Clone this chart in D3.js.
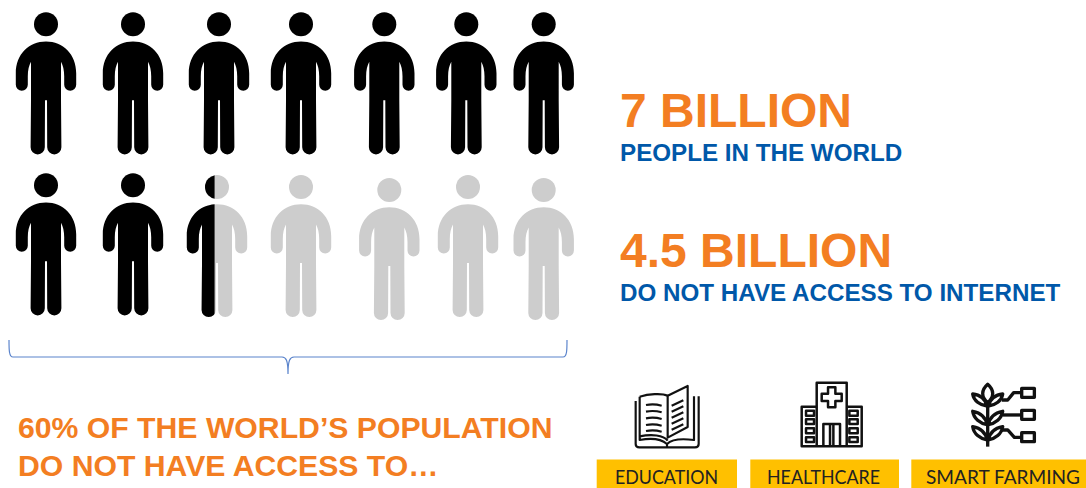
<!DOCTYPE html>
<html>
<head>
<meta charset="utf-8">
<script src="https://cdnjs.cloudflare.com/ajax/libs/d3/7.8.5/d3.min.js"></script>
<style>
  html, body { margin: 0; padding: 0; background: #fff; overflow: hidden; }
  svg { display: block; }
  text { font-family: "Liberation Sans", Arial, sans-serif; font-weight: 700; }
  .tag text { font-family: Lato, "Open Sans", sans-serif; font-weight: 400; }
</style>
</head>
<body>
<svg id="chart" width="1086" height="488"></svg>
<script>
// Share of each figure that is filled black, one row at a time.
const upperRow = [1, 1, 1, 1, 1, 1, 1];
const lowerRow = [1, 1, 0.46, 0, 0, 0, 0];

const headlines = ["7 BILLION", "4.5 BILLION"];
const sublines = ["PEOPLE IN THE WORLD", "DO NOT HAVE ACCESS TO INTERNET"];
const captionLines = ["60% OF THE WORLD\u2019S POPULATION", "DO NOT HAVE ACCESS TO\u2026"];
const sectors = ["EDUCATION", "HEALTHCARE", "SMART FARMING"];

const svg = d3.select("#chart");
const defs = svg.append("defs");

const ORANGE = "#f37e22", BLUE = "#0058a9", GREY = "#cdcdcd", YELLOW = "#ffc000";

// The figures are hand placed, so each row gets its own ordinal scales.
const columns = d3.range(7);
const upperX = d3.scaleOrdinal(columns, [46, 133, 219, 301, 384.3, 466.3, 543.7]);
const lowerX = d3.scaleOrdinal(columns, [46, 133, 217, 301, 389.3, 468, 543.7]);
const upperY = d3.scaleOrdinal(columns, [24.3, 24.3, 24.3, 24.3, 24.3, 24.3, 24.3]);
const lowerY = d3.scaleOrdinal(columns, [185.3, 185.3, 187, 187, 190, 187, 190]);
// Maps a filled share onto the figure's own width.
const fillEdge = d3.scaleLinear().domain([0, 1]).range([-30.2, 30.2]);

// Figure outline, origin at the centre of the head.
const personBody =
  "M0,17.3 C17,17.3 30.2,30 30.2,49 L30.2,60.5 A6,6 0 0 1 18.2,60.5 L18.2,52 " +
  "C18.2,46 17,41 15,37.5 L15,76 L15.4,123 A7,7 0 0 1 1.2,123 L1,76 L-1,76 " +
  "L-1.2,123 A7,7 0 0 1 -15.4,123 L-15,76 L-15,37.5 C-17,41 -18.2,46 -18.2,52 " +
  "L-18.2,60.5 A6,6 0 0 1 -30.2,60.5 L-30.2,49 C-30.2,30 -17,17.3 0,17.3 Z";

function drawPerson(g) {
  g.append("circle").attr("r", 12).attr("fill", "currentColor");
  g.append("path").attr("d", personBody).attr("fill", "currentColor");
}

function drawRow(values, xScale, yScale, rowName) {
  const row = svg.append("g").attr("class", "people " + rowName);
  const person = row.selectAll("g.person").data(values).join("g")
    .attr("class", "person")
    .attr("transform", (d, i) => `translate(${xScale(i)},${yScale(i)})`);

  person.each(function (share, i) {
    const g = d3.select(this);
    if (share > 0 && share < 1) {
      // A partly filled figure: grey base with a clipped black copy on top.
      const clipId = `clip-${rowName}-${i}`;
      defs.append("clipPath").attr("id", clipId).append("rect")
        .attr("x", -40).attr("y", -20)
        .attr("width", fillEdge(share) + 40).attr("height", 170);
      drawPerson(g.append("g").style("color", GREY));
      drawPerson(g.append("g").style("color", "#000").attr("clip-path", `url(#${clipId})`));
    } else {
      drawPerson(g.append("g").style("color", share ? "#000" : GREY));
    }
  });
}

drawRow(upperRow, upperX, upperY, "upper");
drawRow(lowerRow, lowerX, lowerY, "lower");

// Curly brace under the figures.
svg.append("path")
  .attr("d", "M9,340 C9,350 9,357 13,357 H282 C286,357 288,360 288,374 C288,360 290,357 294,357 H563 C567,357 567,350 567,340")
  .attr("fill", "none").attr("stroke", "#5b84cc").attr("stroke-width", 1.2);

// Caption under the brace.
const captionY = d3.scaleOrdinal([0, 1], [438, 476]);
svg.selectAll("text.caption").data(captionLines).join("text")
  .attr("class", "caption")
  .attr("x", 18).attr("y", (d, i) => captionY(i))
  .attr("font-size", 30.2).attr("fill", ORANGE)
  .text(d => d);

// Headline figures on the right.
const headY = d3.scaleOrdinal([0, 1], [126.7, 266.7]);
const subY = d3.scaleOrdinal([0, 1], [160.7, 300.7]);
svg.selectAll("text.head").data(headlines).join("text")
  .attr("class", "head")
  .attr("x", 620).attr("y", (d, i) => headY(i))
  .attr("font-size", 48).attr("fill", ORANGE)
  .text(d => d);
svg.selectAll("text.sub").data(sublines).join("text")
  .attr("class", "sub")
  .attr("x", 620).attr("y", (d, i) => subY(i))
  .attr("font-size", 24.2).attr("fill", BLUE)
  .text(d => d);

// Yellow sector tags; the labels are squeezed to a narrower humanist width.
const tagLeft = d3.scaleOrdinal(sectors, [596.7, 750.3, 911.3]);
const tagRight = d3.scaleOrdinal(sectors, [737, 899, 1086]);
const tagCentre = d3.scaleOrdinal(sectors, [666.5, 823.5, 1003]);
const tagLabelWidth = d3.scaleOrdinal(sectors, [103, 113, 154]);
const tags = svg.selectAll("g.tag").data(sectors).join("g").attr("class", "tag");
tags.append("rect")
  .attr("x", d => tagLeft(d)).attr("y", 459.5)
  .attr("width", d => tagRight(d) - tagLeft(d)).attr("height", 28.5)
  .attr("fill", YELLOW);
tags.append("text")
  .attr("x", d => tagCentre(d)).attr("y", 484)
  .attr("text-anchor", "middle").attr("font-size", 19.5).attr("fill", "#222")
  .attr("textLength", d => tagLabelWidth(d)).attr("lengthAdjust", "spacingAndGlyphs")
  .text(d => d);

// Line icons, drawn on a grid of three units per pixel.
const bookIcon = [
  "M2,48 V177 Q2,187 13,187 H180 Q191,187 191,177 V34",
  "M14,35 V165 C50,158 80,163 96,177 C110,163 140,160 177,165 V34",
  "M96,177 V187",
  "M14,35 C40,27 80,24 98,32",
  "M14,154 C50,147 85,150 98,167",
  "M98,32 L158,3 V126 L98,158 Z",
  "M33,60 Q56,55 80,62", "M33,80 Q56,75 80,82", "M33,100 Q56,95 80,102",
  "M33,120 Q56,115 80,122", "M33,138 Q56,133 80,140",
  "M110,62 L145,46", "M110,80 L145,64", "M110,98 L145,82", "M110,116 L145,100", "M110,134 L145,118"
];
const hospitalIcon = [
  "M48,194 V3 H138 V194",
  "M48,75 H3 V194 H183 V75 H138",
  "M82,17 H104 V36 H123 V58 H104 V77 H82 V58 H63 V36 H82 Z",
  "M68,194 V127 H118 V194", "M88,127 V194", "M98,127 V194",
  "M16,87 H40 V102 H16 Z", "M16,113 H40 V127 H16 Z", "M16,140 H40 V155 H16 Z", "M16,167 H40 V181 H16 Z",
  "M146,87 H171 V102 H146 Z", "M146,113 H171 V127 H146 Z", "M146,140 H171 V155 H146 Z", "M146,167 H171 V181 H146 Z"
];
const farmingIcon = [
  "M48,60 V190",
  "M48,3 C28,20 28,42 48,58 C68,42 68,20 48,3 Z",
  "M3,32 C6,52 25,66 46,68 C42,48 25,34 3,32 Z", "M93,32 C90,52 71,66 50,68 C54,48 71,34 93,32 Z",
  "M3,84 C6,106 25,120 46,124 C42,102 25,88 3,84 Z", "M93,84 C90,106 71,120 50,124 C54,102 71,88 93,84 Z",
  "M3,130 C6,152 25,166 46,170 C42,148 25,134 3,130 Z", "M93,130 C90,152 71,166 50,170 C54,148 71,134 93,130 Z",
  "M90,50 H108 L126,28 H150", "M93,95 H150", "M90,140 H108 L128,162 H150",
  "M150,15 H188 V42 H150 Z", "M150,81 H188 V108 H150 Z", "M150,148 H188 V175 H150 Z"
];
const icons = [bookIcon, hospitalIcon, farmingIcon];
const iconX = d3.scaleOrdinal(d3.range(3), [635, 800.7, 971.7]);
const iconY = d3.scaleOrdinal(d3.range(3), [385, 381.7, 383.3]);
const iconStroke = d3.scaleOrdinal(d3.range(3), [6.5, 7.5, 10]);

svg.selectAll("g.icon").data(icons).join("g")
  .attr("class", "icon")
  .attr("transform", (d, i) => `translate(${iconX(i)},${iconY(i)}) scale(${1 / 3})`)
  .attr("fill", "none").attr("stroke", "#111")
  .attr("stroke-width", (d, i) => iconStroke(i))
  .attr("stroke-linejoin", "round")
  .selectAll("path").data(d => d).join("path")
  .attr("d", d => d);
</script>
</body>
</html>
